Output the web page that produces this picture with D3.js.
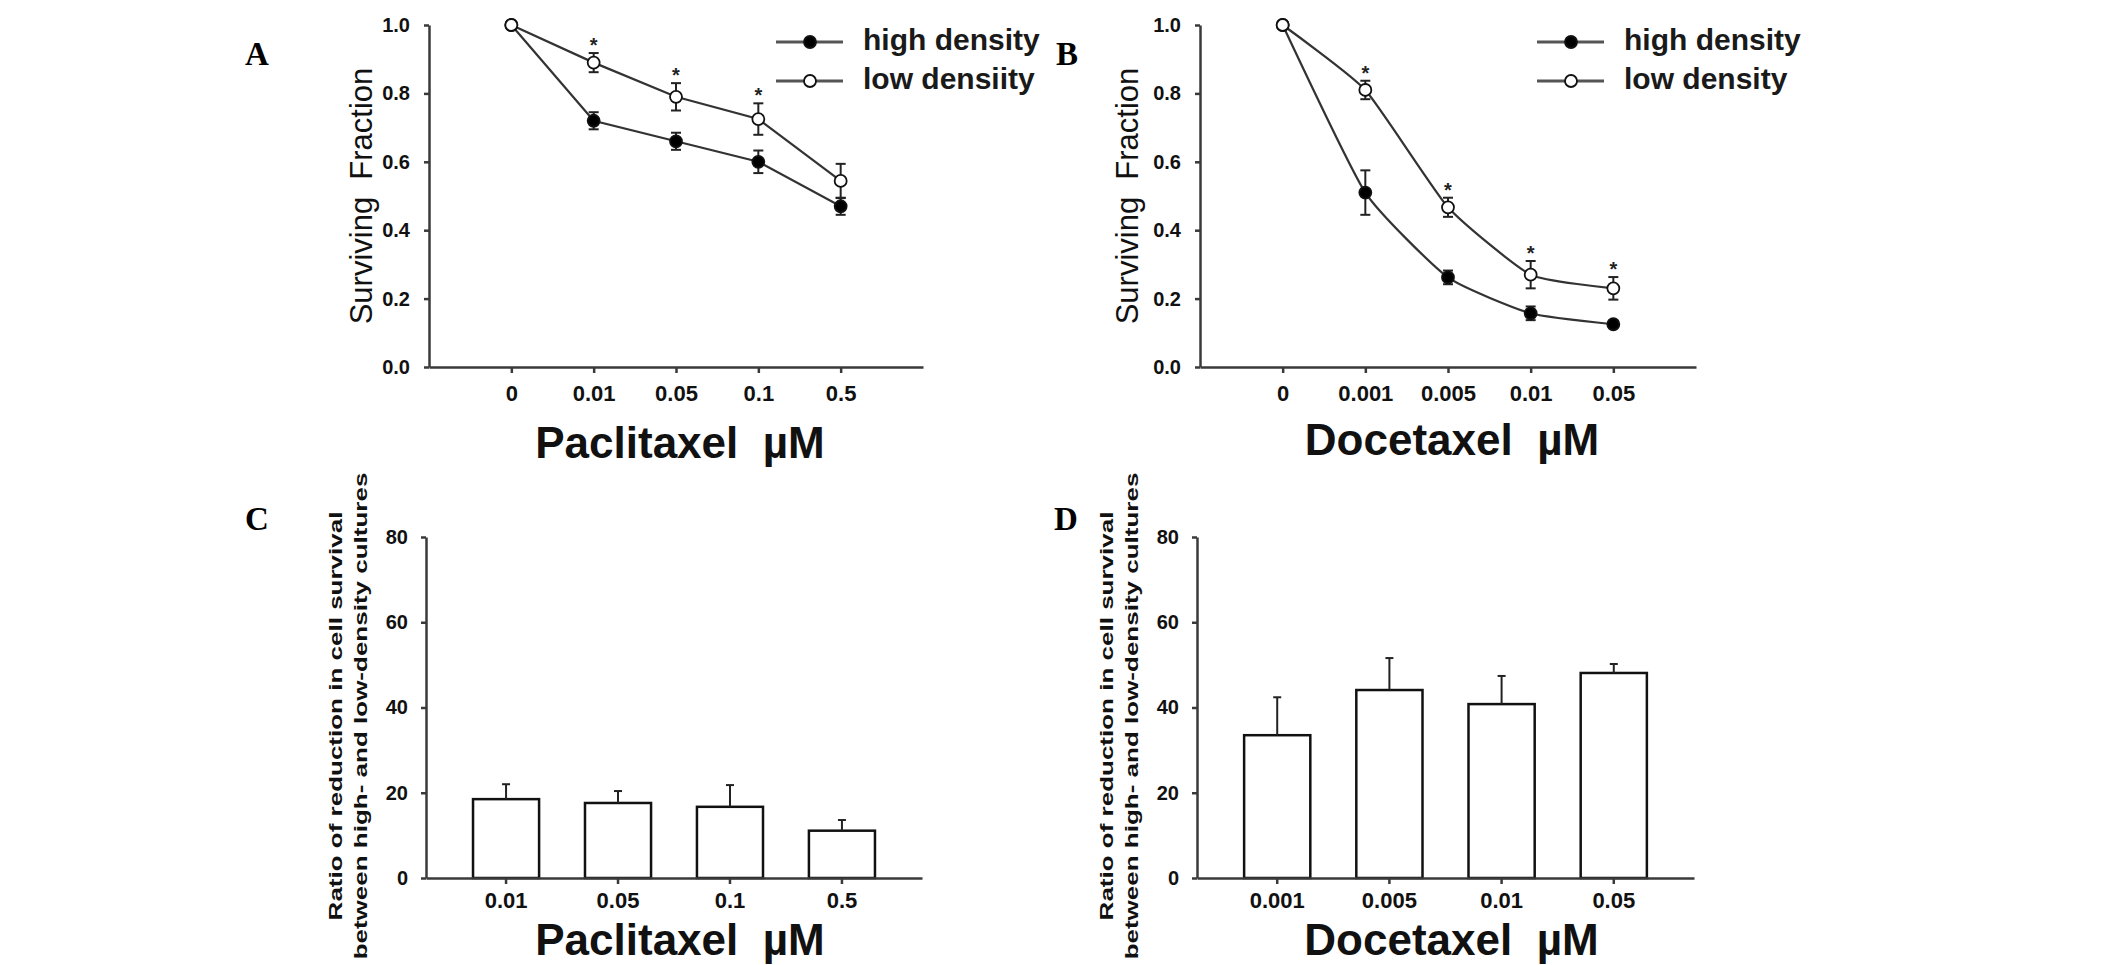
<!DOCTYPE html>
<html>
  <head>
    <meta charset="UTF-8">
    <style>
      body {
        margin: 0;
        background: white;
        font-family: "Liberation Sans", Arial, sans-serif;
      }

      .axis .domain,
      .axis .tick line {
        stroke: #3a3a3a;
        stroke-width: 2.5px;
      }

      .axis text {
        fill: #111;
        font-weight: bold;
        font-family: "Liberation Sans", Arial, sans-serif;
      }

      .panel-label {
        font-family: "Liberation Serif", "Times New Roman", serif;
        font-weight: bold;
        font-size: 33px;
        fill: #000;
      }
    </style>
    <script src="https://d3js.org/d3.v7.min.js"></script>
  </head>

  <body>
    <svg id="figure"></svg>

    <script type="text/javascript">
      // panel A: paclitaxel, surviving fraction
      const pacDoses = ['0', '0.01', '0.05', '0.1', '0.5']
      const pacHigh = [1.0, 0.72, 0.66, 0.60, 0.47]
      const pacHighErr = [0, 0.025, 0.025, 0.033, 0.025]
      const pacLow = [1.0, 0.89, 0.79, 0.725, 0.544]
      const pacLowErr = [0, 0.028, 0.04, 0.046, 0.05]
      const pacStars = [false, true, true, true, false]

      // panel B: docetaxel, surviving fraction
      const docDoses = ['0', '0.001', '0.005', '0.01', '0.05']
      const docHigh = [1.0, 0.51, 0.262, 0.157, 0.125]
      const docHighErr = [0, 0.065, 0.02, 0.02, 0.008]
      const docLow = [1.0, 0.81, 0.467, 0.27, 0.23]
      const docLowErr = [0, 0.027, 0.028, 0.04, 0.033]
      const docStars = [false, true, true, true, true]

      const survTicks = [0, 0.2, 0.4, 0.6, 0.8, 1.0]

      // panels C and D: ratio of reduction
      const pacRatioDoses = ['0.01', '0.05', '0.1', '0.5']
      const pacRatio = [18.5, 17.6, 16.7, 11.1]
      const pacRatioErr = [3.5, 2.8, 5.1, 2.5]

      const docRatioDoses = ['0.001', '0.005', '0.01', '0.05']
      const docRatio = [33.5, 44.1, 40.8, 48.1]
      const docRatioErr = [8.9, 7.5, 6.6, 2.1]

      const ratioTicks = [0, 20, 40, 60, 80]

      const width = 2126
      const height = 965

      let svg = d3.select('#figure')
        .attr('width', width)
        .attr('height', height)

      svg.append('rect')
        .attr('width', width)
        .attr('height', height)
        .attr('fill', 'white')

      function drawLinePanel(cfg) {
        let g = svg.append('g')

        let xScale = d3.scalePoint()
          .domain(cfg.doses)
          .range([cfg.left, cfg.right])
          .padding(1)

        let yScale = d3.scaleLinear()
          .domain([0, 1])
          .range([cfg.bottom, cfg.top])

        g.append('g')
          .attr('class', 'axis')
          .attr('transform', `translate(0, ${cfg.bottom})`)
          .call(d3.axisBottom(xScale).tickSize(6).tickSizeOuter(0).tickPadding(12))
          .selectAll('text')
            .style('font-size', '22px')

        g.append('g')
          .attr('class', 'axis')
          .attr('transform', `translate(${cfg.left}, 0)`)
          .call(d3.axisLeft(yScale)
            .tickValues(survTicks)
            .tickFormat(d3.format('.1f'))
            .tickSize(5)
            .tickSizeOuter(0)
            .tickPadding(14))
          .selectAll('text')
            .style('font-size', '20px')

        let series = [
          { values: cfg.high, errors: cfg.highErr, fill: '#000' },
          { values: cfg.low, errors: cfg.lowErr, fill: '#fff' },
        ]

        let line = d3.line()
          .x((d, i) => xScale(cfg.doses[i]))
          .y(d => yScale(d))
          .curve(cfg.curve)

        series.forEach(s => {
          g.append('path')
            .datum(s.values)
            .attr('d', line)
            .attr('fill', 'none')
            .attr('stroke', '#333')
            .attr('stroke-width', 2.2)
        })

        series.forEach(s => {
          let eg = g.append('g')
            .attr('stroke', '#222')
            .attr('stroke-width', 2)

          s.values.forEach((v, i) => {
            if (!s.errors[i]) return
            let x = xScale(cfg.doses[i])
            let yTop = yScale(v + s.errors[i])
            let yBot = yScale(v - s.errors[i])
            eg.append('line')
              .attr('x1', x).attr('x2', x)
              .attr('y1', yTop).attr('y2', yBot)
            eg.append('line')
              .attr('x1', x - 5).attr('x2', x + 5)
              .attr('y1', yTop).attr('y2', yTop)
            eg.append('line')
              .attr('x1', x - 5).attr('x2', x + 5)
              .attr('y1', yBot).attr('y2', yBot)
          })
        })

        series.forEach(s => {
          g.append('g')
            .selectAll('circle')
            .data(s.values)
            .join('circle')
              .attr('cx', (d, i) => xScale(cfg.doses[i]))
              .attr('cy', d => yScale(d))
              .attr('r', 6)
              .attr('fill', s.fill)
              .attr('stroke', '#111')
              .attr('stroke-width', 1.8)
        })

        // significance stars above the low density error bars
        let starIndex = cfg.stars
          .map((d, i) => d ? i : -1)
          .filter(i => i >= 0)

        g.append('g')
          .selectAll('text')
          .data(starIndex)
          .join('text')
            .attr('x', i => xScale(cfg.doses[i]))
            .attr('y', i => yScale(cfg.low[i] + cfg.lowErr[i]) - 1)
            .attr('text-anchor', 'middle')
            .style('font-size', '20px')
            .style('font-weight', 'bold')
            .attr('fill', '#222')
            .text('*')

        // axis titles
        g.append('text')
          .attr('transform', `translate(${cfg.yTitleX}, ${(cfg.top + cfg.bottom) / 2}) rotate(-90)`)
          .attr('text-anchor', 'middle')
          .style('font-size', '31px')
          .attr('fill', '#111')
          .attr('xml:space', 'preserve')
          .text('Surviving  Fraction')

        g.append('text')
          .attr('x', (cfg.left + cfg.right) / 2 + 4)
          .attr('y', cfg.xTitleY)
          .attr('text-anchor', 'middle')
          .style('font-size', '44px')
          .style('font-weight', 'bold')
          .attr('fill', '#111')
          .attr('xml:space', 'preserve')
          .text(cfg.xTitle)

        // legend
        let legend = g.append('g')
          .attr('transform', `translate(${cfg.legendX}, 0)`)

        let legendRows = [
          { label: 'high density', fill: '#000', y: 42 },
          { label: cfg.lowLabel, fill: '#fff', y: 81 },
        ]

        legendRows.forEach(r => {
          legend.append('line')
            .attr('x1', 0).attr('x2', 67)
            .attr('y1', r.y).attr('y2', r.y)
            .attr('stroke', '#555')
            .attr('stroke-width', 3)
          legend.append('circle')
            .attr('cx', 34).attr('cy', r.y)
            .attr('r', 6)
            .attr('fill', r.fill)
            .attr('stroke', '#111')
            .attr('stroke-width', 1.8)
          legend.append('text')
            .attr('x', 87)
            .attr('y', r.y + 8)
            .style('font-size', '30px')
            .style('font-weight', 'bold')
            .attr('fill', '#1a1a1a')
            .text(r.label)
        })
      }

      function drawBarPanel(cfg) {
        let g = svg.append('g')

        let xScale = d3.scaleBand()
          .domain(cfg.doses)
          .range([cfg.left, cfg.right])
          .paddingInner(0.41)
          .paddingOuter(0.42)

        let yScale = d3.scaleLinear()
          .domain([0, 80])
          .range([cfg.bottom, cfg.top])

        g.append('g')
          .selectAll('rect')
          .data(cfg.values)
          .join('rect')
            .attr('x', (d, i) => xScale(cfg.doses[i]))
            .attr('y', d => yScale(d))
            .attr('width', xScale.bandwidth())
            .attr('height', d => yScale(0) - yScale(d))
            .attr('fill', 'white')
            .attr('stroke', '#111')
            .attr('stroke-width', 2.5)

        let eg = g.append('g')
          .attr('stroke', '#222')
          .attr('stroke-width', 2)

        cfg.values.forEach((v, i) => {
          let x = xScale(cfg.doses[i]) + xScale.bandwidth() / 2
          let yTop = yScale(v + cfg.errors[i])
          eg.append('line')
            .attr('x1', x).attr('x2', x)
            .attr('y1', yScale(v)).attr('y2', yTop)
          eg.append('line')
            .attr('x1', x - 4).attr('x2', x + 4)
            .attr('y1', yTop).attr('y2', yTop)
        })

        g.append('g')
          .attr('class', 'axis')
          .attr('transform', `translate(0, ${cfg.bottom})`)
          .call(d3.axisBottom(xScale).tickSize(6).tickSizeOuter(0).tickPadding(8))
          .selectAll('text')
            .style('font-size', '22px')

        g.append('g')
          .attr('class', 'axis')
          .attr('transform', `translate(${cfg.left}, 0)`)
          .call(d3.axisLeft(yScale)
            .tickValues(ratioTicks)
            .tickSize(5)
            .tickSizeOuter(0)
            .tickPadding(13))
          .selectAll('text')
            .style('font-size', '20px')

        // two line y title, stretched along its length like the original
        let titleLines = [
          { text: 'Ratio of reduction in cell survival', offset: -84 },
          { text: 'between high- and low-density cultures', offset: -59 },
        ]

        titleLines.forEach(t => {
          g.append('text')
            .attr('transform', `translate(${cfg.left + t.offset}, 716) rotate(-90) scale(1, 0.7)`)
            .attr('text-anchor', 'middle')
            .style('font-size', '26px')
            .style('font-weight', 'bold')
            .attr('fill', '#111')
            .text(t.text)
        })

        g.append('text')
          .attr('x', (cfg.left + cfg.right) / 2 + 6)
          .attr('y', cfg.xTitleY)
          .attr('text-anchor', 'middle')
          .style('font-size', '44px')
          .style('font-weight', 'bold')
          .attr('fill', '#111')
          .attr('xml:space', 'preserve')
          .text(cfg.xTitle)
      }

      drawLinePanel({
        doses: pacDoses, high: pacHigh, highErr: pacHighErr,
        low: pacLow, lowErr: pacLowErr, stars: pacStars,
        left: 429, right: 923, top: 25, bottom: 367,
        curve: d3.curveLinear,
        yTitleX: 372, xTitleY: 458,
        xTitle: 'Paclitaxel  \u00b5M',
        legendX: 776, lowLabel: 'low densiity',
      })

      drawLinePanel({
        doses: docDoses, high: docHigh, highErr: docHighErr,
        low: docLow, lowErr: docLowErr, stars: docStars,
        left: 1200, right: 1696, top: 25, bottom: 367,
        curve: d3.curveCardinal.tension(0.5),
        yTitleX: 1138, xTitleY: 455,
        xTitle: 'Docetaxel  \u00b5M',
        legendX: 1537, lowLabel: 'low density',
      })

      drawBarPanel({
        doses: pacRatioDoses, values: pacRatio, errors: pacRatioErr,
        left: 426, right: 922, top: 537, bottom: 878,
        xTitleY: 955, xTitle: 'Paclitaxel  \u00b5M',
      })

      drawBarPanel({
        doses: docRatioDoses, values: docRatio, errors: docRatioErr,
        left: 1197, right: 1694, top: 537, bottom: 878,
        xTitleY: 955, xTitle: 'Docetaxel  \u00b5M',
      })

      // panel letters
      let labels = [
        { text: 'A', x: 245, y: 65 },
        { text: 'B', x: 1056, y: 65 },
        { text: 'C', x: 245, y: 530 },
        { text: 'D', x: 1054, y: 530 },
      ]

      svg.selectAll('.panel-label')
        .data(labels)
        .join('text')
          .attr('class', 'panel-label')
          .attr('x', d => d.x)
          .attr('y', d => d.y)
          .text(d => d.text)
    </script>
  </body>
</html>
